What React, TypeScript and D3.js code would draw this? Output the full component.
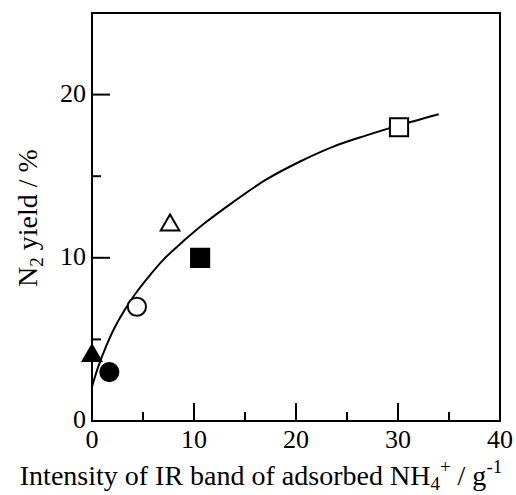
import * as d3 from "d3";

// axis ticks and labels
const xLabels = [0, 10, 20, 30, 40];
const yLabels = [0, 10, 20];
const xMajor = [10, 20, 30];
const xMinor = [5, 15, 25, 35];
const yMajor = [10, 20];
const yMinor = [5, 15];

// measured samples
const pointX = [0, 1.7, 4.4, 7.65, 10.6, 30.1];
const pointY = [4.0, 3.0, 7.0, 12.0, 10.0, 18.0];
const pointShape = ["triangle", "circle", "circle", "triangle", "square", "square"];
const pointFilled = [true, true, false, false, true, false];

// fitted curve
const curveX = [0, 0.6, 1.4, 2.2, 3.2, 4.2, 5.5, 7.1, 9.1, 11, 13.8, 17.1, 20.4, 23.6, 26.9, 30, 34];
const curveY = [2.1, 3.3, 4.6, 5.7, 6.8, 7.75, 8.8, 9.95, 11.1, 12.1, 13.4, 14.8, 15.9, 16.8, 17.5, 18.1, 18.8];

const W = 516;
const H = 495;
const font = "'Liberation Serif', 'Times New Roman', Times, serif";

export default function App() {
  const x = d3.scaleLinear().domain([0, 40]).range([92, 500]);
  const y = d3.scaleLinear().domain([0, 25]).range([421, 13]);

  const line = d3
    .line<number>()
    .x((d) => x(d))
    .y((_, i) => y(curveY[i]))
    .curve(d3.curveCatmullRom.alpha(0.5));

  const symbolPath = (shape: string) => {
    if (shape === "triangle") return d3.symbol(d3.symbolTriangle, 150)()!;
    if (shape === "square") return d3.symbol(d3.symbolSquare, 330)()!;
    return d3.symbol(d3.symbolCircle, 260)()!;
  };

  const txt = { fontFamily: font };

  return (
    <svg
      width={W}
      height={H}
      style={{ position: "absolute", left: 0, top: 0, background: "#fff", fontFamily: font }}
    >
      <rect x={x(0)} y={y(25)} width={x(40) - x(0)} height={y(0) - y(25)} fill="none" stroke="#000" strokeWidth={2} />

      {xMajor.map((t) => (
        <line key={"xM" + t} x1={x(t)} x2={x(t)} y1={y(0)} y2={y(0) - 18} stroke="#000" strokeWidth={2} />
      ))}
      {xMinor.map((t) => (
        <line key={"xm" + t} x1={x(t)} x2={x(t)} y1={y(0)} y2={y(0) - 9} stroke="#000" strokeWidth={2} />
      ))}
      {yMajor.map((t) => (
        <line key={"yM" + t} x1={x(0)} x2={x(0) + 18} y1={y(t)} y2={y(t)} stroke="#000" strokeWidth={2} />
      ))}
      {yMinor.map((t) => (
        <line key={"ym" + t} x1={x(0)} x2={x(0) + 9} y1={y(t)} y2={y(t)} stroke="#000" strokeWidth={2} />
      ))}

      {xLabels.map((t) => (
        <text key={"xl" + t} style={txt} x={x(t)} y={y(0) + 27} textAnchor="middle" fontSize={26}>
          {t}
        </text>
      ))}
      {yLabels.map((t) => (
        <text key={"yl" + t} style={txt} x={x(0) - 6} y={y(t) + 7} textAnchor="end" fontSize={26}>
          {t}
        </text>
      ))}

      <path d={line(curveX) || ""} fill="none" stroke="#000" strokeWidth={2} />

      {pointX.map((px, i) => (
        <path
          key={"p" + i}
          d={symbolPath(pointShape[i])}
          transform={`translate(${x(px)},${y(pointY[i])})`}
          fill={pointFilled[i] ? "#000" : "#fff"}
          stroke="#000"
          strokeWidth={2}
        />
      ))}

      <text style={txt} x={261} y={485} textAnchor="middle" fontSize={28}>
        Intensity of IR band of adsorbed NH
        <tspan fontSize={19} dy={5}>4</tspan>
        <tspan fontSize={19} dy={-17}>+</tspan>
        <tspan dy={12}> / g</tspan>
        <tspan fontSize={19} dy={-12}>-1</tspan>
      </text>

      <text style={txt} transform="translate(37,218) rotate(-90)" textAnchor="middle" fontSize={28}>
        N<tspan fontSize={19} dy={6}>2</tspan>
        <tspan dy={-6}> yield / %</tspan>
      </text>
    </svg>
  );
}
